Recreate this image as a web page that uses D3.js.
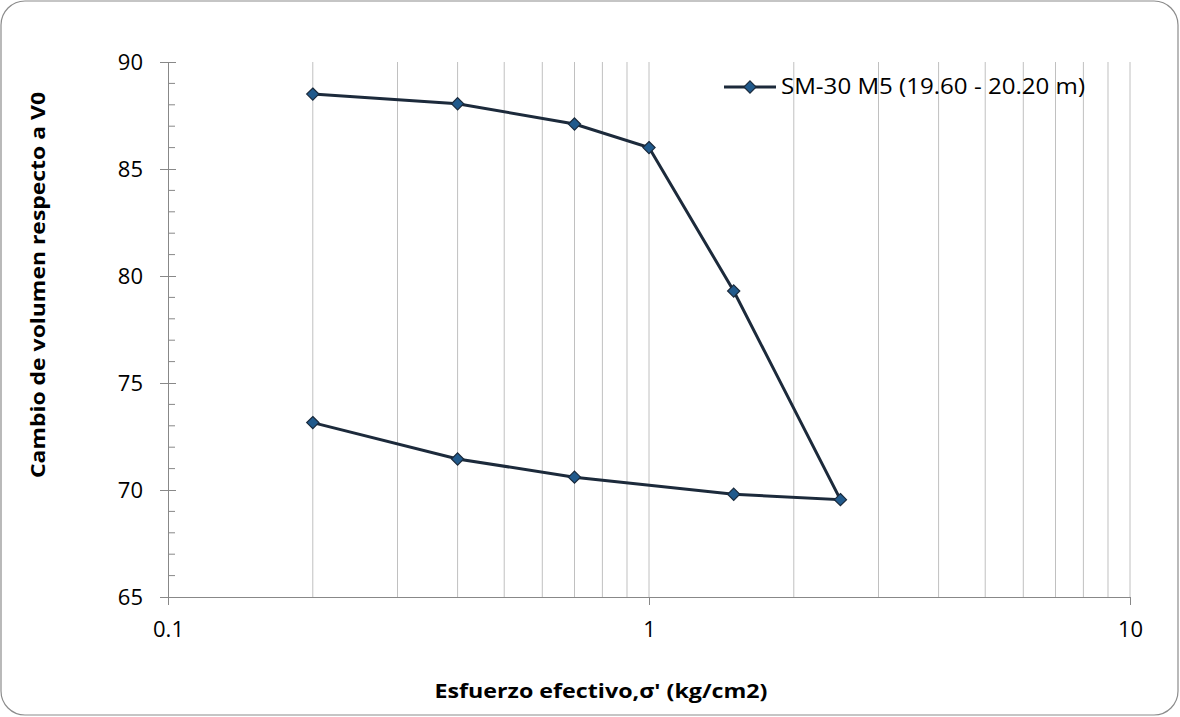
<!DOCTYPE html>
<html><head><meta charset="utf-8">
<script src="https://cdn.jsdelivr.net/npm/d3@7"></script>
<style>body{margin:0;background:#fff}svg{display:block}text{font-family:"Open Sans","Noto Sans",sans-serif}</style>
</head><body><svg id="c" width="1180" height="717"></svg>
<script>
const seriesName = "SM-30 M5 (19.60 - 20.20 m)";
const stress = [0.2, 0.4, 0.7, 1, 1.5, 2.5, 1.5, 0.7, 0.4, 0.2];
const volume = [88.5, 88.05, 87.1, 86.0, 79.3, 69.55, 69.8, 70.6, 71.45, 73.15];
const yTicks = [65, 70, 75, 80, 85, 90];
const xTicks = [0.1, 1, 10];
const xTitle = "Esfuerzo efectivo,σ' (kg/cm2)";
const yTitle = "Cambio de volumen respecto a V0";

const svg = d3.select("#c");
svg.append("rect").attr("x",1).attr("y",1).attr("width",1177).attr("height",714)
  .attr("rx",24).attr("fill","#fff").attr("stroke","#8c8c8c").attr("stroke-width",1.2);

const L=168, R=1130, T=62, B=597;
const x = d3.scaleLog().domain([0.1,10]).range([L,R]);
const y = d3.scaleLinear().domain([65,90]).range([B,T]);

// vertical gridlines
const gridVals = [];
for (let d=0.1; d<10; d*=10) for (let k=1;k<=10;k++) gridVals.push(+(d*k).toPrecision(3));
const uniq = Array.from(new Set(gridVals)).filter(v=>v>0.1);
svg.append("g").selectAll("line").data(uniq).join("line")
  .attr("x1",d=>x(d)).attr("x2",d=>x(d)).attr("y1",T).attr("y2",B)
  .attr("stroke","#c0c0c0").attr("stroke-width",1);

// y axis
const yMinor = d3.range(65,91,1);
svg.append("g").selectAll("line").data(yMinor.filter(v=>v%5!==0)).join("line")
  .attr("x1",L).attr("x2",L+7).attr("y1",d=>y(d)).attr("y2",d=>y(d)).attr("stroke","#888");
const ya = svg.append("g").attr("transform",`translate(${L},0)`)
  .call(d3.axisLeft(y).tickValues(yTicks).tickSize(8).tickPadding(17).tickFormat(d3.format("d")));
ya.select(".domain").attr("stroke","#888");
ya.selectAll(".tick line").attr("stroke","#888").attr("x2",-8).attr("x1",8);
ya.selectAll("text").attr("font-size",22).attr("fill","#000").attr("dy","0.35em").attr("font-family","Open Sans");

// x axis
const xa = svg.append("g").attr("transform",`translate(0,${B})`)
  .call(d3.axisBottom(x).tickValues(xTicks).tickSize(8).tickPadding(16).tickFormat(d=>String(d)));
xa.select(".domain").attr("stroke","#888");
xa.selectAll(".tick line").attr("stroke","#888");
xa.selectAll("text").attr("font-size",22).attr("fill","#000").attr("font-family","Open Sans");

// series
const pts = stress.map((s,i)=>[s,volume[i]]);
svg.append("path").datum(pts)
  .attr("d", d3.line().x(d=>x(d[0])).y(d=>y(d[1])))
  .attr("fill","none").attr("stroke","#1c2a3b").attr("stroke-width",3);
const diamond = d3.symbol().type(d3.symbolDiamond2).size(95);
svg.append("g").selectAll("path").data(pts).join("path")
  .attr("transform",d=>`translate(${x(d[0])},${y(d[1])})`)
  .attr("d",diamond).attr("fill","#215a8c").attr("stroke","#1a2a3c").attr("stroke-width",1.2);

// legend
const lg = svg.append("g");
lg.append("line").attr("x1",724).attr("x2",776).attr("y1",87).attr("y2",87).attr("stroke","#1c2a3b").attr("stroke-width",3);
lg.append("path").attr("transform","translate(750,87)").attr("d",diamond).attr("fill","#215a8c").attr("stroke","#1a2a3c").attr("stroke-width",1.2);
lg.append("text").attr("x",781).attr("y",87).attr("dy","0.35em").attr("font-size",21).attr("fill","#000")
  .attr("textLength",304).attr("lengthAdjust","spacingAndGlyphs").text(seriesName);

// titles
svg.append("text").attr("x",601).attr("y",691).attr("dy","0.35em").attr("text-anchor","middle")
  .attr("font-size",20).attr("font-weight","bold")
  .attr("textLength",333).attr("lengthAdjust","spacingAndGlyphs").text(xTitle);
svg.append("text").attr("transform","translate(38,285) rotate(-90)").attr("dy","0.35em").attr("text-anchor","middle")
  .attr("font-size",20).attr("font-weight","bold")
  .attr("textLength",386).attr("lengthAdjust","spacingAndGlyphs").text(yTitle);
</script></body></html>
